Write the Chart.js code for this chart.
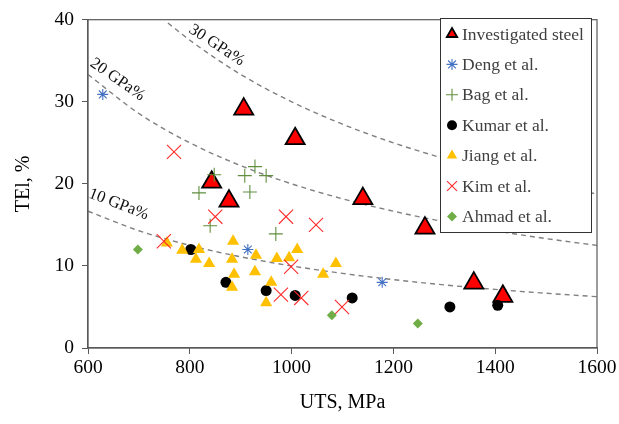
<!DOCTYPE html>
<html>
<head>
<meta charset="utf-8">
<script src="https://cdn.jsdelivr.net/npm/chart.js@4"></script>
<style>
  html, body { margin: 0; padding: 0; background: #fff; }
  #wrap { width: 619px; height: 424px; }
</style>
</head>
<body>
<div id="wrap"><canvas id="c" width="619" height="424"></canvas></div>
<script>
// UTS (MPa) vs total elongation (%)
const investUTS = [906, 1007, 843, 877, 1140, 1262, 1358, 1415];
const investTEl = [29.1, 25.5, 20.2, 17.9, 18.2, 14.6, 7.9, 6.3];

const dengUTS = [629, 914, 1178];
const dengTEl = [30.9, 12.0, 8.0];

const bagUTS = [818, 848, 908, 928, 950, 918, 840, 969];
const bagTEl = [18.9, 21.1, 21.0, 22.1, 21.0, 19.0, 14.9, 13.9];

const kumarUTS = [802, 871, 950, 1007, 1119, 1311, 1405];
const kumarTEl = [12.0, 8.0, 7.0, 6.4, 6.1, 5.0, 5.2];

const jiangUTS = [755, 785, 818, 812, 838, 885, 883, 887, 883, 930, 928, 960, 950, 971, 995, 1011, 1062, 1087];
const jiangTEl = [12.8, 11.9, 12.0, 10.8, 10.3, 13.0, 10.8, 9.0, 7.4, 11.3, 9.3, 8.0, 5.5, 10.9, 11.0, 12.0, 9.0, 10.3];

const kimUTS = [769, 850, 989, 1048, 749, 999, 979, 1019, 1099];
const kimTEl = [23.9, 16.0, 16.0, 15.0, 13.0, 9.9, 6.5, 6.1, 5.0];

const ahmadUTS = [698, 1079, 1248];
const ahmadTEl = [12.0, 4.0, 3.0];

// iso product-of-strength-and-elongation curves (UTS x TEl = const)
const isoUTS   = [600, 700, 800, 900, 1000, 1100, 1200, 1300, 1400, 1500, 1600];
const iso10TEl = [16.67, 14.29, 12.5, 11.11, 10.0, 9.09, 8.33, 7.69, 7.14, 6.67, 6.25];
const iso20TEl = [33.33, 28.57, 25.0, 22.22, 20.0, 18.18, 16.67, 15.38, 14.29, 13.33, 12.5];
const iso30UTS = [757, 800, 900, 1000, 1100, 1200, 1300, 1400, 1500, 1600];
const iso30TEl = [39.6, 37.5, 33.33, 30.0, 27.27, 25.0, 23.08, 21.43, 20.0, 18.75];

const isoLabels = ['10 GPa%', '20 GPa%', '30 GPa%'];

const xTicks = [600, 800, 1000, 1200, 1400, 1600];
const yTicks = [0, 10, 20, 30, 40];

const SERIF = '"Liberation Serif", "DejaVu Serif", serif';

function pts(xs, ys) { return xs.map((x, i) => ({ x, y: ys[i] })); }

function isoLine(xs, ys) {
  return {
    type: 'line', data: pts(xs, ys), borderColor: '#808080', borderWidth: 1.4,
    borderDash: [5, 4], pointRadius: 0, cubicInterpolationMode: 'monotone',
    order: 20,
  };
}

const series = [
  { label: 'Investigated steel', data: pts(investUTS, investTEl), pointStyle: 'triangle', pointRadius: 11,
    backgroundColor: '#ff0000', borderColor: '#000', pointBorderWidth: 1.8, order: 10, lw: 6 },
  { label: 'Deng et al.', data: pts(dengUTS, dengTEl), pointStyle: 'star', pointRadius: 5.5,
    backgroundColor: '#4472c4', borderColor: '#4472c4', pointBorderWidth: 1.1, order: 6, lw: 5.5 },
  { label: 'Bag et al.', data: pts(bagUTS, bagTEl), pointStyle: 'cross', pointRadius: 7,
    backgroundColor: '#5f8f3e', borderColor: '#5f8f3e', pointBorderWidth: 1.1, order: 5, lw: 6 },
  { label: 'Kumar et al.', data: pts(kumarUTS, kumarTEl), pointStyle: 'circle', pointRadius: 5.5,
    backgroundColor: '#000', borderColor: '#000', pointBorderWidth: 0, order: 4, lw: 5 },
  { label: 'Jiang et al.', data: pts(jiangUTS, jiangTEl), pointStyle: 'triangle', pointRadius: 7,
    backgroundColor: '#ffc000', borderColor: '#ffc000', pointBorderWidth: 0, order: 3, lw: 6 },
  { label: 'Kim et al.', data: pts(kimUTS, kimTEl), pointStyle: 'crossRot', pointRadius: 10,
    backgroundColor: '#ff2a2a', borderColor: '#ff2a2a', pointBorderWidth: 1.1, order: 2, lw: 7 },
  { label: 'Ahmad et al.', data: pts(ahmadUTS, ahmadTEl), pointStyle: 'rectRot', pointRadius: 5,
    backgroundColor: '#70ad47', borderColor: '#70ad47', pointBorderWidth: 0, order: 1, lw: 5 },
];

const datasets = series.map(s => Object.assign({ type: 'scatter', showLine: false }, s));
datasets.push(isoLine(isoUTS, iso10TEl), isoLine(isoUTS, iso20TEl), isoLine(iso30UTS, iso30TEl));

// frame, curve labels and boxed legend drawn on top
const extras = {
  id: 'extras',
  afterDatasetsDraw(chart) {
    const { ctx, chartArea: a, scales: { x, y } } = chart;
    ctx.save();

    // curve labels, rotated along the dashed lines
    const lab = [
      { t: isoLabels[0], ux: 660, ty: 17.5, ang: 21 },
      { t: isoLabels[1], ux: 658, ty: 32.7, ang: 35 },
      { t: isoLabels[2], ux: 853, ty: 36.9, ang: 33 },
    ];
    ctx.font = '16.5px ' + SERIF;
    ctx.fillStyle = '#111';
    ctx.textAlign = 'center';
    ctx.textBaseline = 'middle';
    for (const l of lab) {
      ctx.save();
      ctx.translate(x.getPixelForValue(l.ux), y.getPixelForValue(l.ty));
      ctx.rotate(l.ang * Math.PI / 180);
      ctx.fillText(l.t, 0, 0);
      ctx.restore();
    }

    // frame
    ctx.strokeStyle = '#595959';
    ctx.lineWidth = 1.2;
    ctx.strokeRect(a.left, a.top, a.right - a.left, a.bottom - a.top);

    // legend box
    const bx = 440.5, by = 18.5, bw = 151, bh = 214;
    ctx.fillStyle = '#fff';
    ctx.fillRect(bx, by, bw, bh);
    ctx.strokeStyle = '#333';
    ctx.lineWidth = 1;
    ctx.strokeRect(bx, by, bw, bh);
    ctx.font = '17.5px ' + SERIF;
    ctx.textAlign = 'left';
    series.forEach((s, i) => {
      const cy = 34 + i * 30.4;
      ctx.fillStyle = s.backgroundColor;
      ctx.strokeStyle = s.borderColor;
      ctx.lineWidth = s.pointBorderWidth || 1;
      Chart.helpers.drawPoint(ctx, { pointStyle: s.pointStyle, radius: s.lw, rotation: 0,
        borderWidth: s.pointBorderWidth }, 452, cy);
      ctx.fillStyle = '#404040';
      ctx.fillText(s.label, 462, cy + 1);
    });
    ctx.restore();
  },
};

const tickFont = { family: SERIF, size: 19.5 };

new Chart(document.getElementById('c'), {
  data: { datasets },
  plugins: [extras],
  options: {
    responsive: false,
    animation: false,
    layout: { padding: { top: 18, right: 22, left: 0, bottom: 0 } },
    plugins: { legend: { display: false }, tooltip: { enabled: false } },
    scales: {
      x: {
        type: 'linear', min: 600, max: 1600,
        afterBuildTicks: s => { s.ticks = xTicks.map(v => ({ value: v })); },
        afterFit: s => { s.height = 76; },
        ticks: { color: '#000', font: tickFont, padding: 2, callback: v => String(v) },
        grid: { drawOnChartArea: false, tickLength: 6, color: '#595959', tickColor: '#595959' },
        border: { color: '#595959', width: 1.2 },
        title: { display: true, text: 'UTS, MPa', color: '#000', font: { family: SERIF, size: 20 }, padding: { top: 0, bottom: 9 } },
      },
      y: {
        type: 'linear', min: 0, max: 40,
        afterBuildTicks: s => { s.ticks = yTicks.map(v => ({ value: v })); },
        afterFit: s => { s.width = 88; },
        ticks: { color: '#000', font: tickFont, padding: 8, callback: v => String(v) },
        grid: { drawOnChartArea: false, tickLength: 6, color: '#595959', tickColor: '#595959' },
        border: { color: '#595959', width: 1.2 },
        title: { display: true, text: 'TEl, %', color: '#000', font: { family: SERIF, size: 20 }, padding: { top: 12, bottom: 0 } },
      },
    },
  },
});
</script>
</body>
</html>
